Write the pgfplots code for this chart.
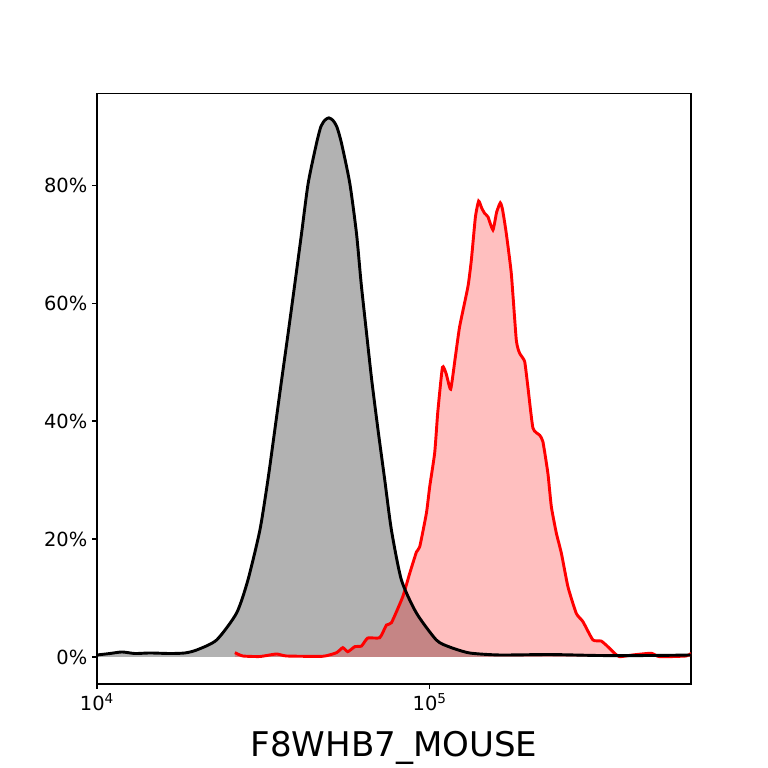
\documentclass[border=0pt]{standalone}
\usepackage{pgfplots}
\pgfplotsset{compat=1.18}
\usepackage{fontspec}
\setmainfont{DejaVu Sans}
\begin{document}
\begin{tikzpicture}
\path[use as bounding box] (0,0) rectangle (553pt,553pt);
\begin{axis}[
  at={(69.84pt,60.48pt)}, anchor=south west,
  scale only axis, width=427.7pt, height=425.5pt,
  xmode=log, log basis x=10,
  xmin=10000, xmax=610000,
  ymin=-4.58, ymax=95.6,
  xtick={10000,100000},
  xticklabels={10\textsuperscript{4},10\textsuperscript{5}},
  ytick={0,20,40,60,80},
  yticklabels={0\%,20\%,40\%,60\%,80\%},
  minor xtick={}, minor ytick={},
  tick align=outside,
  major tick length=3.5pt,
  xtick pos=bottom, ytick pos=left,
  tick style={black, line width=0.8pt},
  axis line style={line width=0.8pt},
  tick label style={font=\fontsize{14}{16}\selectfont},
  xlabel={F8WHB7\_MOUSE},
  xlabel style={at={(axis description cs:0.5,-0.1235)}, anchor=base, font=\fontsize{24.5}{28}\selectfont},
]
% black (control) fill
\addplot[draw=none, fill=black, fill opacity=0.3, smooth, tension=0.4] coordinates {
(10000,0) (10000,0.34) (10940,0.59) (11890,0.85) (13000,0.59) (14420,0.68) (16560,0.59) (18370,0.68) (19950,1.19)
(22880,2.88) (26280,7.46) (28420,13.05) (30870,21.5) (32630,30.0) (34230,38.5) (35870,46.9) (37540,54.9)
(39330,63.3) (41190,71.8) (43120,80.3) (45690,87.1) (47070,89.9) (48390,91.0) (49740,91.4) (51140,91.0) (52570,89.9) (54310,87.1)
(57520,80.3) (60250,71.8) (62230,63.3) (64590,54.9) (66960,46.9) (69930,38.5) (73270,30.0) (76740,21.5)
(82220,13.05) (91200,7.46) (104700,2.88) (114800,1.69) (131800,0.68) (162200,0.34) (229300,0.42)
(323900,0.25) (458100,0.25) (610800,0.34) (610800,0)
} -- cycle;
% red fill
\addplot[draw=none, fill=red, fill opacity=0.25] coordinates {
(25970,0) (25970,0.73) (27440,0.17) (30870,0.08) (34640,0.51) (37130,0.17) (47720,0.12) (52460,0.73) (54800,1.58)
(56730,0.90) (59550,1.75) (62360,1.86) (65130,3.22) (70760,3.27) (74130,5.42) (76740,5.81) (82960,10.2)
(87090,14.2) (91230,17.8) (93330,18.7) (97750,24.4) (100000,28.9) (103500,34.6) (105700,41.4) (109200,49.1)
(112100,48.0) (115600,45.4) (119300,50.7) (123000,56.0) (130300,62.8) (133400,67.3) (137200,74.6)
(140300,77.3) (143300,76.1) (146300,75.2) (149700,74.6) (154900,72.4) (158900,75.4) (163000,77.0)
(165600,75.8) (169900,71.8) (175900,65.0) (182100,53.7) (186300,51.5) (192900,50.1) (197300,45.8)
(204300,38.8) (214000,37.6) (218900,36.5) (226600,31.1) (232000,25.5) (240200,21.0) (248700,17.6)
(260300,11.9) (275700,7.4) (288700,6.0) (309300,2.9) (327800,2.7) (343100,1.75) (359400,0.63)
(372100,0.05) (407000,0.34) (463200,0.63) (490600,0.05) (590000,0.17) (610800,0.63) (610800,0)
} -- cycle;
% red line
\addplot[red, line width=2.1pt, smooth, tension=0.3] coordinates {
(25970,0.73) (27440,0.17) (30870,0.08) (34640,0.51) (37130,0.17) (47720,0.12) (52460,0.73) (54800,1.58)
(56730,0.90) (59550,1.75) (62360,1.86) (65130,3.22) (70760,3.27) (74130,5.42) (76740,5.81) (82960,10.2)
(87090,14.2) (91230,17.8) (93330,18.7) (97750,24.4) (100000,28.9) (103500,34.6) (105700,41.4) (109200,49.1)
(112100,48.0) (115600,45.4) (119300,50.7) (123000,56.0) (130300,62.8) (133400,67.3) (137200,74.6)
(140300,77.3) (143300,76.1) (146300,75.2) (149700,74.6) (154900,72.4) (158900,75.4) (163000,77.0)
(165600,75.8) (169900,71.8) (175900,65.0) (182100,53.7) (186300,51.5) (192900,50.1) (197300,45.8)
(204300,38.8) (214000,37.6) (218900,36.5) (226600,31.1) (232000,25.5) (240200,21.0) (248700,17.6)
(260300,11.9) (275700,7.4) (288700,6.0) (309300,2.9) (327800,2.7) (343100,1.75) (359400,0.63)
(372100,0.05) (407000,0.34) (463200,0.63) (490600,0.05) (590000,0.17) (610800,0.63)
};
% black line
\addplot[black, line width=2.1pt, smooth, tension=0.4] coordinates {
(10000,0.34) (10940,0.59) (11890,0.85) (13000,0.59) (14420,0.68) (16560,0.59) (18370,0.68) (19950,1.19)
(22880,2.88) (26280,7.46) (28420,13.05) (30870,21.5) (32630,30.0) (34230,38.5) (35870,46.9) (37540,54.9)
(39330,63.3) (41190,71.8) (43120,80.3) (45690,87.1) (47070,89.9) (48390,91.0) (49740,91.4) (51140,91.0) (52570,89.9) (54310,87.1)
(57520,80.3) (60250,71.8) (62230,63.3) (64590,54.9) (66960,46.9) (69930,38.5) (73270,30.0) (76740,21.5)
(82220,13.05) (91200,7.46) (104700,2.88) (114800,1.69) (131800,0.68) (162200,0.34) (229300,0.42)
(323900,0.25) (458100,0.25) (610800,0.34)
};
\end{axis}
\end{tikzpicture}
\end{document}
